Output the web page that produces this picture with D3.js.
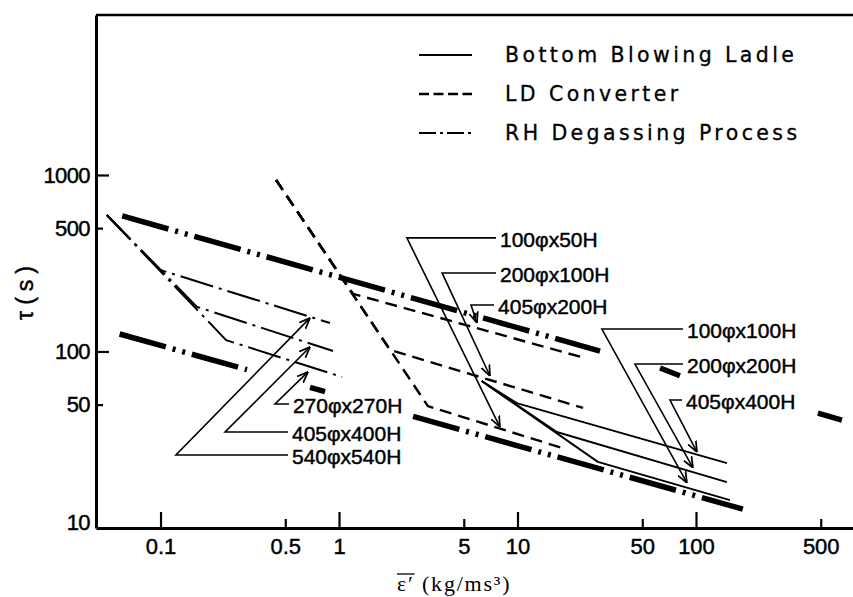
<!DOCTYPE html>
<html lang="en">
<head>
<meta charset="UTF-8">
<title>Mixing time vs. stirring energy</title>
<style>
  body { margin: 0; background: #fff; }
  svg { display: block; }
  text { fill: #000; font-family: "Liberation Sans", Arial, sans-serif; }
  .sans { stroke: #000; stroke-width: 0.45px; }
  .axis path, .axis line { stroke: #000; }
  .axis path { stroke-width: 3; }
  .axis line { stroke-width: 2.2; }
  .axis text { font-size: 22px; stroke: #000; stroke-width: 0.45px; }
  .ladle { fill: none; stroke: #000; stroke-width: 1.9; }
  .ld { fill: none; stroke: #000; stroke-width: 2.4; stroke-dasharray: 12 7; }
  .rh { fill: none; stroke: #000; stroke-width: 2; stroke-dasharray: 34 6 3 6; }
  .bound { fill: none; stroke: #000; stroke-width: 5.5; stroke-dasharray: 48 7 3 7 3 7; }
  .arrow { fill: none; stroke: #000; stroke-width: 1.6; }
  .ann { font-size: 21px; }
  .legend text { font-family: "DejaVu Sans", sans-serif; font-size: 20.5px; letter-spacing: 3.4px; stroke-width: 0.3px; }
</style>
</head>
<body>
<svg width="853" height="597"></svg>
<script src="https://d3js.org/d3.v7.min.js"></script>
<script>
// axis ticks
const xTicks = [0.1, 0.5, 1, 5, 10, 50, 100, 500];
const yTicks = [10, 50, 100, 500, 1000];

// Bottom Blowing Ladle (solid) - [eps, tau]
const ladle100x100 = [[6.3, 68], [28.2, 23.7], [155, 14.4]];
const ladle200x200 = [[6.3, 68], [16.6, 35], [149, 18.2]];
const ladle405x400 = [[6.3, 68], [9.9, 51], [149, 23.3]];

// LD Converter (dashed)
const ld100x50 = [[0.444, 937], [3.15, 49], [17.8, 28.4]];
const ld200x100 = [[0.444, 937], [1.93, 102], [23.3, 47.9]];
const ld405x200 = [[0.444, 937], [1.2, 212], [23.9, 91.8]];

// RH Degassing Process (dash-dot)
const rh270x270 = [[0.050, 593], [0.233, 116], [1.04, 71.7]];
const rh405x400 = [[0.050, 593], [0.16, 179], [0.926, 100.7]];
const rh540x540 = [[0.050, 593], [0.0993, 290], [0.89, 145]];

// heavy dash-dot-dot lines (null = line interrupted in the figure)
const boundUpper = [[0.061, 586], [29.0, 100.6], null, [62.9, 80.6], [81.3, 72.9], null, [482, 44.8], [657, 40.9]];
const boundLower = [[0.059, 125.6], [0.305, 78.9], null, [0.688, 62.6], [0.835, 59.3], null, [2.60, 42.9], [183, 12.8]];

// size labels: tip of arrow, elbow of leader, start of text
const annotations = [
  { label: "100φx50H",  tip: [7.98, 37.3],  elbow: [2.40, 440],  textX: 7.98 },
  { label: "200φx100H", tip: [7.01, 72.6],  elbow: [3.78, 278.6], textX: 7.98 },
  { label: "405φx200H", tip: [5.93, 145],   elbow: [5.49, 183.4], textX: 7.78 },
  { label: "100φx100H", tip: [89.0, 18.0],  elbow: [29.7, 134],  textX: 89.0 },
  { label: "200φx200H", tip: [96.2, 21.9],  elbow: [45.5, 84.9], textX: 89.0 },
  { label: "405φx400H", tip: [101.3, 26.9], elbow: [71.5, 53.1], textX: 87.9 },
  { label: "270φx270H", tip: [0.670, 76.6], elbow: [0.438, 50.4], textX: 0.552 },
  { label: "405φx400H", tip: [0.688, 106],  elbow: [0.230, 35.0], textX: 0.545 },
  { label: "540φx540H", tip: [0.688, 155],  elbow: [0.122, 25.9], textX: 0.545 }
];

const legendItems = [
  { name: "Bottom Blowing Ladle", cls: "ladle" },
  { name: "LD Converter", cls: "ld" },
  { name: "RH Degassing Process", cls: "rh" }
];

const plot = { left: 96, right: 853, top: 15, bottom: 528 };
const svg = d3.select("svg");

const x = d3.scaleLog().domain([0.0435, 758]).range([plot.left, plot.right]);
const y = d3.scaleLog().domain([10, 8060]).range([plot.bottom, plot.top]);
const isMajor = v => Math.abs(Math.log10(v) - Math.round(Math.log10(v))) < 1e-6;

// axes (ticks point inward)
const xAxis = svg.append("g")
  .attr("class", "axis")
  .attr("transform", `translate(0,${plot.bottom})`)
  .call(d3.axisBottom(x).tickValues(xTicks).tickFormat(d3.format("~g"))
    .tickSizeInner(-16).tickSizeOuter(0).tickPadding(10));
xAxis.selectAll(".tick line").attr("y2", d => isMajor(d) ? -16 : -9);

const yAxis = svg.append("g")
  .attr("class", "axis")
  .attr("transform", `translate(${plot.left},0)`)
  .call(d3.axisLeft(y).tickValues(yTicks).tickFormat(d3.format("~g"))
    .tickSizeInner(-13).tickSizeOuter(0).tickPadding(6));
yAxis.selectAll(".tick line").attr("x2", d => d === 10 ? 0 : (isMajor(d) ? 13 : 7));
yAxis.selectAll(".tick text").attr("font-size", 21).attr("letter-spacing", -0.6)
  .attr("dy", d => d === 10 ? "0.05em" : "0.32em");

svg.append("line")
  .attr("x1", plot.left).attr("x2", plot.right)
  .attr("y1", plot.top).attr("y2", plot.top)
  .attr("stroke", "#000").attr("stroke-width", 2.6);

// data lines
const line = d3.line().defined(d => d).x(d => x(d[0])).y(d => y(d[1]));
const series = [
  { data: boundUpper, cls: "bound" }, { data: boundLower, cls: "bound" },
  { data: rh540x540, cls: "rh" }, { data: rh405x400, cls: "rh" }, { data: rh270x270, cls: "rh" },
  { data: ld405x200, cls: "ld" }, { data: ld200x100, cls: "ld" }, { data: ld100x50, cls: "ld" },
  { data: ladle405x400, cls: "ladle" }, { data: ladle200x200, cls: "ladle" }, { data: ladle100x100, cls: "ladle" }
];
svg.append("g").selectAll("path")
  .data(series)
  .join("path")
  .attr("class", d => d.cls)
  .attr("stroke-linejoin", "round")
  .attr("d", d => line(d.data));

// arrow annotations
svg.append("defs").append("marker")
  .attr("id", "head")
  .attr("viewBox", "0 0 10 10")
  .attr("refX", 10).attr("refY", 5)
  .attr("markerWidth", 11).attr("markerHeight", 11)
  .attr("markerUnits", "userSpaceOnUse")
  .attr("orient", "auto")
  .append("path")
  .attr("d", "M0,1 L10,5 L0,9")
  .attr("fill", "none").attr("stroke", "#000").attr("stroke-width", 1.6);

const ann = svg.append("g").selectAll("g")
  .data(annotations)
  .join("g");
ann.append("path")
  .attr("class", "arrow")
  .attr("marker-end", "url(#head)")
  .attr("d", d => `M${x(d.textX) - 4},${y(d.elbow[1])} L${x(d.elbow[0])},${y(d.elbow[1])} L${x(d.tip[0])},${y(d.tip[1])}`);
ann.append("text")
  .attr("class", "ann sans")
  .attr("x", d => x(d.textX))
  .attr("y", d => y(d.elbow[1]) + 2)
  .attr("dy", "0.35em")
  .text(d => d.label);
// white box behind each label, as in the drawing
ann.each(function () {
  const g = d3.select(this);
  const b = g.select("text").node().getBBox();
  g.insert("rect", "text")
    .attr("x", b.x - 1).attr("y", b.y + 3)
    .attr("width", b.width + 2).attr("height", b.height - 5)
    .attr("fill", "#fff");
});

// legend
const legend = svg.append("g").attr("class", "legend");
const lg = legend.selectAll("g")
  .data(legendItems)
  .join("g")
  .attr("transform", (d, i) => `translate(419,${55 + i * 39})`);
lg.append("line")
  .attr("class", d => d.cls)
  .attr("x1", 0).attr("x2", 53)
  .style("stroke-dasharray", d => d.cls === "ld" ? "10 4.5" : d.cls === "rh" ? "17 4 3 4" : null);
lg.append("text")
  .attr("class", "sans")
  .attr("x", 86)
  .attr("dy", "0.36em")
  .text(d => d.name);

// axis titles
svg.append("text")
  .attr("class", "sans")
  .attr("transform", "translate(25,290) rotate(-90)")
  .attr("text-anchor", "middle")
  .attr("dy", "0.35em")
  .attr("font-size", 23)
  .attr("letter-spacing", 6)
  .text("τ(s)");

const xTitle = svg.append("text")
  .attr("x", 397)
  .attr("y", 591)
  .style("font-family", "'Liberation Serif', 'DejaVu Serif', serif")
  .attr("font-size", 22)
  .attr("letter-spacing", 1.8)
  .text("ε′ (kg/ms³)");
const tn = xTitle.node();
const ox0 = tn.getStartPositionOfChar(0).x;
const ox1 = tn.getEndPositionOfChar(1).x;
svg.append("line")
  .attr("x1", ox0).attr("x2", ox1)
  .attr("y1", 574).attr("y2", 574)
  .attr("stroke", "#000").attr("stroke-width", 1.3);
</script>
</body>
</html>
